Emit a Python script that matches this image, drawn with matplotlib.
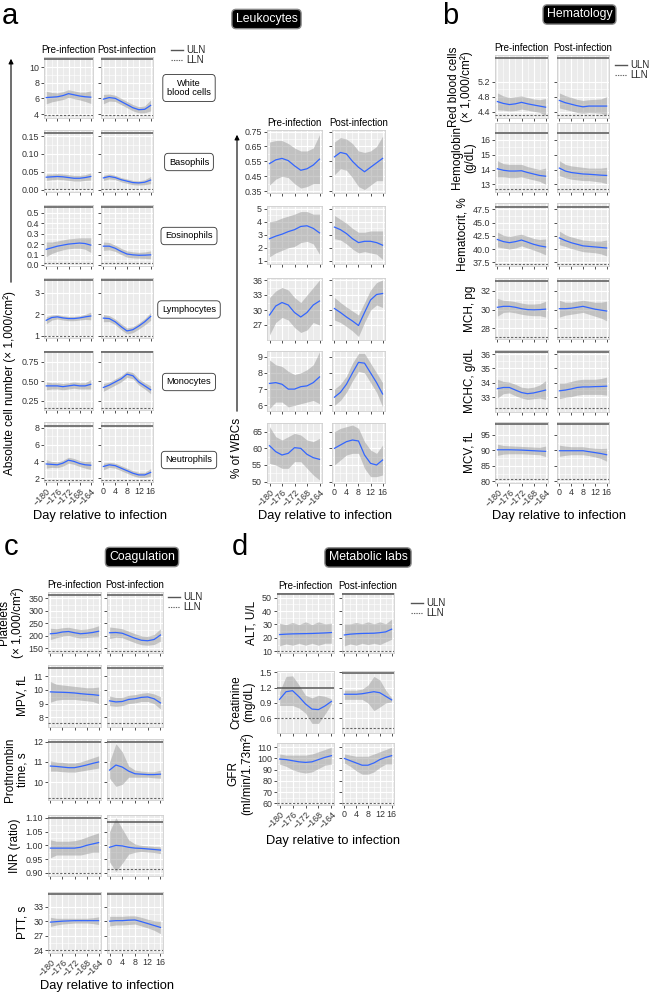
import numpy as np
import matplotlib.pyplot as plt
from matplotlib.lines import Line2D
from matplotlib.patches import FancyArrowPatch

plt.rcParams['font.family'] = ['Liberation Sans', 'DejaVu Sans']

W, H = 653, 994

pre_days = [-180, -178, -176, -174, -172, -170, -168, -166, -164]
post_days = [0, 2, 4, 6, 8, 10, 12, 14, 16]
pre_ticks = [-180, -176, -172, -168, -164]
post_ticks = [0, 4, 8, 12, 16]
pre_ticklabels = ['\u2212180', '\u2212176', '\u2212172', '\u2212168', '\u2212164']
post_ticklabels = ['0', '4', '8', '12', '16']

# each series: [fit, lower, upper]
# --- a: absolute counts
wbc_pre = [[6.1, 6.15, 6.2, 6.35, 6.6, 6.45, 6.3, 6.2, 6.15],
           [5.3, 5.55, 5.7, 5.85, 6.1, 5.95, 5.8, 5.6, 5.35],
           [6.9, 6.75, 6.7, 6.85, 7.1, 6.95, 6.8, 6.8, 6.95]]
wbc_post = [[5.9, 6.1, 6.0, 5.6, 5.2, 4.8, 4.55, 4.6, 5.1],
            [5.3, 5.65, 5.6, 5.2, 4.8, 4.4, 4.15, 4.15, 4.4],
            [6.5, 6.55, 6.4, 6.0, 5.6, 5.2, 4.95, 5.05, 5.8]]
baso_pre = [[0.035, 0.036, 0.037, 0.036, 0.034, 0.032, 0.032, 0.034, 0.037],
            [0.026, 0.028, 0.029, 0.028, 0.026, 0.024, 0.024, 0.026, 0.027],
            [0.044, 0.044, 0.045, 0.044, 0.042, 0.040, 0.040, 0.042, 0.047]]
baso_post = [[0.033, 0.037, 0.034, 0.028, 0.024, 0.020, 0.019, 0.021, 0.027],
             [0.026, 0.030, 0.028, 0.022, 0.018, 0.014, 0.013, 0.014, 0.017],
             [0.040, 0.044, 0.040, 0.034, 0.030, 0.026, 0.025, 0.028, 0.037]]
eos_pre = [[0.15, 0.165, 0.18, 0.19, 0.2, 0.205, 0.21, 0.205, 0.19],
           [0.08, 0.11, 0.13, 0.145, 0.155, 0.16, 0.16, 0.15, 0.12],
           [0.22, 0.22, 0.23, 0.24, 0.25, 0.255, 0.26, 0.26, 0.26]]
eos_post = [[0.18, 0.18, 0.16, 0.13, 0.105, 0.097, 0.093, 0.094, 0.097],
            [0.14, 0.145, 0.13, 0.10, 0.075, 0.068, 0.065, 0.063, 0.06],
            [0.22, 0.215, 0.19, 0.16, 0.135, 0.126, 0.121, 0.125, 0.135]]
lym_pre = [[1.72, 1.85, 1.88, 1.83, 1.80, 1.80, 1.83, 1.88, 1.92],
           [1.55, 1.73, 1.78, 1.73, 1.70, 1.70, 1.73, 1.76, 1.74],
           [1.89, 1.97, 1.98, 1.93, 1.90, 1.90, 1.93, 2.00, 2.10]]
lym_post = [[1.82, 1.80, 1.65, 1.42, 1.22, 1.28, 1.45, 1.65, 1.90],
            [1.65, 1.66, 1.52, 1.28, 1.08, 1.14, 1.31, 1.50, 1.72],
            [1.99, 1.94, 1.78, 1.56, 1.36, 1.42, 1.59, 1.80, 2.08]]
mono_pre = [[0.44, 0.44, 0.44, 0.43, 0.44, 0.45, 0.44, 0.44, 0.46],
            [0.39, 0.40, 0.40, 0.39, 0.40, 0.41, 0.40, 0.40, 0.40],
            [0.49, 0.48, 0.48, 0.47, 0.48, 0.49, 0.48, 0.48, 0.52]]
mono_post = [[0.42, 0.45, 0.49, 0.53, 0.59, 0.57, 0.49, 0.44, 0.39],
             [0.37, 0.41, 0.45, 0.49, 0.55, 0.53, 0.45, 0.40, 0.34],
             [0.47, 0.49, 0.53, 0.57, 0.63, 0.61, 0.53, 0.48, 0.44]]
neut_pre = [[3.7, 3.65, 3.6, 3.8, 4.15, 4.0, 3.75, 3.6, 3.55],
            [3.2, 3.3, 3.25, 3.45, 3.8, 3.65, 3.4, 3.2, 3.05],
            [4.2, 4.0, 3.95, 4.15, 4.5, 4.35, 4.1, 4.0, 4.05]]
neut_post = [[3.4, 3.6, 3.5, 3.2, 2.9, 2.6, 2.4, 2.4, 2.7],
             [3.0, 3.3, 3.2, 2.9, 2.6, 2.3, 2.1, 2.1, 2.25],
             [3.8, 3.9, 3.8, 3.5, 3.2, 2.9, 2.7, 2.7, 3.15]]

# --- a: % of WBCs
basop_pre = [[0.535, 0.56, 0.57, 0.555, 0.52, 0.49, 0.50, 0.525, 0.565],
             [0.39, 0.43, 0.45, 0.44, 0.40, 0.37, 0.38, 0.40, 0.40],
             [0.68, 0.69, 0.69, 0.67, 0.64, 0.62, 0.62, 0.64, 0.73]]
basop_post = [[0.58, 0.61, 0.60, 0.55, 0.51, 0.48, 0.51, 0.54, 0.57],
              [0.46, 0.50, 0.49, 0.44, 0.38, 0.36, 0.39, 0.42, 0.42],
              [0.68, 0.71, 0.70, 0.67, 0.62, 0.61, 0.62, 0.65, 0.72]]
eosp_pre = [[2.7, 2.9, 3.05, 3.25, 3.4, 3.65, 3.7, 3.5, 3.15],
            [1.3, 1.6, 1.8, 2.0, 2.1, 2.4, 2.5, 2.3, 1.5],
            [4.0, 4.1, 4.3, 4.45, 4.6, 4.8, 4.8, 4.6, 4.6]]
eosp_post = [[3.6, 3.4, 3.1, 2.7, 2.4, 2.5, 2.5, 2.4, 2.2],
             [2.7, 2.6, 2.3, 1.9, 1.6, 1.7, 1.6, 1.5, 1.1],
             [4.5, 4.2, 3.9, 3.5, 3.2, 3.2, 3.3, 3.3, 3.3]]
lymp_pre = [[29.0, 30.8, 31.5, 31.0, 29.5, 28.6, 29.5, 31.0, 31.8],
            [25.0, 27.5, 28.5, 28.0, 26.5, 25.5, 26.0, 27.5, 27.0],
            [32.5, 33.8, 34.5, 34.0, 32.5, 31.5, 33.0, 34.5, 36.0]]
lymp_post = [[30.3, 29.5, 28.6, 27.8, 26.9, 29.5, 32.0, 33.1, 33.3],
             [28.0, 27.5, 26.7, 25.8, 24.7, 27.5, 30.0, 31.0, 30.5],
             [32.5, 31.5, 30.6, 29.8, 29.0, 31.5, 34.0, 35.5, 36.0]]
monop_pre = [[7.35, 7.4, 7.3, 7.0, 7.0, 7.15, 7.2, 7.4, 7.75],
             [5.8, 6.2, 6.2, 5.9, 6.0, 6.1, 6.2, 6.3, 6.1],
             [8.8, 8.5, 8.4, 8.1, 7.9, 8.0, 8.2, 8.5, 9.3]]
monop_post = [[6.5, 6.8, 7.3, 8.0, 8.65, 8.6, 8.0, 7.4, 6.7],
              [6.0, 6.3, 6.8, 7.5, 8.1, 8.0, 7.4, 6.8, 5.9],
              [7.0, 7.3, 7.8, 8.6, 9.2, 9.2, 8.6, 8.0, 7.4]]
neutp_pre = [[60.8, 59.0, 58.0, 58.5, 60.2, 60.0, 58.2, 57.2, 56.7],
             [55.5, 55.0, 54.0, 54.0, 56.0, 56.0, 54.0, 52.0, 50.5],
             [66.5, 63.5, 62.5, 63.5, 64.5, 64.0, 62.5, 62.0, 63.0]]
neutp_post = [[60.0, 61.0, 62.0, 62.5, 62.2, 58.0, 55.5, 55.0, 56.5],
              [55.0, 56.5, 58.0, 58.5, 58.5, 54.0, 51.5, 51.5, 52.0],
              [65.0, 66.0, 66.5, 67.0, 66.0, 62.0, 59.5, 58.5, 61.0]]

# --- b: hematology
rbc_pre = [[4.67, 4.62, 4.59, 4.61, 4.65, 4.61, 4.58, 4.55, 4.52],
           [4.45, 4.44, 4.42, 4.43, 4.47, 4.44, 4.41, 4.38, 4.30],
           [4.90, 4.82, 4.78, 4.80, 4.82, 4.78, 4.74, 4.72, 4.75]]
rbc_post = [[4.70, 4.64, 4.60, 4.56, 4.53, 4.55, 4.55, 4.55, 4.55],
            [4.50, 4.46, 4.42, 4.38, 4.36, 4.38, 4.37, 4.36, 4.30],
            [4.90, 4.83, 4.78, 4.73, 4.70, 4.72, 4.73, 4.74, 4.80]]
hgb_pre = [[14.05, 13.95, 13.9, 13.9, 13.92, 13.8, 13.7, 13.6, 13.55],
           [13.5, 13.5, 13.45, 13.45, 13.5, 13.4, 13.3, 13.2, 13.0],
           [14.6, 14.4, 14.35, 14.35, 14.35, 14.2, 14.1, 14.0, 14.1]]
hgb_post = [[14.1, 13.9, 13.8, 13.75, 13.7, 13.68, 13.65, 13.62, 13.6],
            [13.6, 13.45, 13.35, 13.3, 13.25, 13.25, 13.2, 13.15, 13.05],
            [14.6, 14.35, 14.25, 14.2, 14.15, 14.1, 14.1, 14.1, 14.15]]
hct_pre = [[41.8, 41.4, 41.2, 41.4, 41.7, 41.3, 40.9, 40.6, 40.4],
           [40.4, 40.2, 40.0, 40.2, 40.6, 40.2, 39.8, 39.4, 38.9],
           [43.2, 42.6, 42.4, 42.6, 42.8, 42.4, 42.0, 41.8, 41.9]]
hct_post = [[42.1, 41.6, 41.2, 40.9, 40.6, 40.5, 40.4, 40.3, 40.2],
            [40.8, 40.5, 40.1, 39.8, 39.5, 39.4, 39.3, 39.1, 38.7],
            [43.4, 42.7, 42.3, 42.0, 41.7, 41.6, 41.5, 41.5, 41.7]]
mch_pre = [[30.25, 30.35, 30.35, 30.25, 30.1, 30.0, 29.98, 30.0, 30.05],
           [29.3, 29.7, 29.75, 29.65, 29.5, 29.4, 29.35, 29.35, 29.2],
           [31.2, 31.0, 30.95, 30.85, 30.7, 30.6, 30.6, 30.65, 30.9]]
mch_post = [[30.1, 30.1, 30.15, 30.25, 30.35, 30.2, 30.05, 29.95, 29.85],
            [29.2, 29.4, 29.5, 29.6, 29.7, 29.5, 29.3, 29.1, 28.8],
            [31.0, 30.8, 30.8, 30.9, 31.0, 30.9, 30.8, 30.8, 30.9]]
mchc_pre = [[33.6, 33.68, 33.68, 33.5, 33.33, 33.25, 33.3, 33.4, 33.5],
            [32.95, 33.25, 33.3, 33.1, 32.95, 32.85, 32.9, 32.95, 32.85],
            [34.25, 34.1, 34.05, 33.9, 33.7, 33.65, 33.7, 33.85, 34.15]]
mchc_post = [[33.45, 33.5, 33.58, 33.68, 33.72, 33.72, 33.74, 33.75, 33.77],
             [32.9, 33.0, 33.05, 33.15, 33.2, 33.2, 33.2, 33.2, 33.15],
             [34.0, 34.0, 34.1, 34.2, 34.25, 34.25, 34.25, 34.3, 34.4]]
mcv_pre = [[90.2, 90.2, 90.2, 90.15, 90.1, 90.0, 89.9, 89.8, 89.7],
           [88.4, 88.8, 88.9, 88.9, 88.9, 88.8, 88.7, 88.6, 88.0],
           [92.0, 91.6, 91.5, 91.4, 91.3, 91.2, 91.1, 91.0, 91.4]]
mcv_post = [[89.9, 89.9, 89.9, 89.9, 89.9, 89.6, 89.3, 89.0, 88.6],
            [88.1, 88.4, 88.6, 88.6, 88.6, 88.3, 87.9, 87.4, 86.5],
            [91.7, 91.4, 91.2, 91.2, 91.2, 90.9, 90.7, 90.6, 90.7]]

# --- c: coagulation
plt_pre = [[208, 210, 215, 217, 212, 208, 210, 213, 218],
           [185, 192, 198, 200, 195, 191, 193, 195, 196],
           [230, 228, 232, 234, 229, 225, 227, 232, 240]]
plt_post = [[212, 213, 210, 200, 190, 182, 180, 185, 203],
            [189, 194, 192, 182, 172, 164, 162, 165, 178],
            [235, 232, 228, 218, 208, 200, 198, 205, 228]]
mpv_pre = [[9.85, 9.83, 9.82, 9.8, 9.77, 9.72, 9.68, 9.65, 9.6],
           [9.1, 9.25, 9.3, 9.3, 9.3, 9.25, 9.2, 9.15, 9.0],
           [10.6, 10.4, 10.35, 10.3, 10.25, 10.2, 10.15, 10.15, 10.2]]
mpv_post = [[9.2, 9.12, 9.15, 9.3, 9.35, 9.45, 9.48, 9.35, 9.05],
            [8.85, 8.8, 8.85, 9.0, 9.05, 9.15, 9.15, 9.0, 8.6],
            [9.55, 9.45, 9.45, 9.6, 9.65, 9.75, 9.8, 9.7, 9.5]]
pt_pre = [[10.8, 10.78, 10.75, 10.72, 10.72, 10.78, 10.85, 10.93, 11.0],
          [10.55, 10.55, 10.52, 10.5, 10.5, 10.55, 10.6, 10.65, 10.7],
          [11.05, 11.0, 10.98, 10.95, 10.95, 11.0, 11.1, 11.2, 11.3]]
pt_post = [[10.6, 10.85, 10.75, 10.55, 10.42, 10.4, 10.38, 10.38, 10.4],
           [10.2, 9.8, 9.9, 10.25, 10.25, 10.25, 10.25, 10.22, 10.2],
           [11.0, 11.9, 11.5, 10.8, 10.6, 10.55, 10.52, 10.52, 10.6]]
inr_pre = [[0.99, 0.99, 0.99, 0.99, 0.99, 0.993, 1.0, 1.005, 1.01],
           [0.955, 0.965, 0.965, 0.965, 0.965, 0.965, 0.97, 0.975, 0.975],
           [1.02, 1.015, 1.015, 1.015, 1.017, 1.022, 1.03, 1.038, 1.045]]
inr_post = [[0.993, 1.0, 0.998, 0.993, 0.99, 0.989, 0.987, 0.985, 0.983],
            [0.94, 0.905, 0.935, 0.968, 0.975, 0.978, 0.976, 0.974, 0.97],
            [1.05, 1.10, 1.06, 1.02, 1.005, 1.0, 0.998, 0.996, 0.995]]
ptt_pre = [[29.8, 29.9, 30.0, 30.05, 30.1, 30.1, 30.1, 30.1, 30.1],
           [28.9, 29.2, 29.4, 29.5, 29.6, 29.6, 29.6, 29.5, 29.3],
           [30.8, 30.6, 30.6, 30.6, 30.6, 30.6, 30.6, 30.7, 30.9]]
ptt_post = [[30.0, 30.1, 30.1, 30.2, 30.25, 29.9, 29.5, 29.1, 28.7],
            [29.0, 29.2, 29.2, 29.3, 29.4, 29.0, 28.6, 28.1, 27.4],
            [31.0, 31.0, 31.0, 31.1, 31.1, 30.8, 30.4, 30.1, 30.0]]

# --- d: metabolic labs
alt_pre = [[22.5, 22.8, 23.0, 23.1, 23.2, 23.3, 23.5, 23.7, 24.0],
           [14, 15.5, 14.5, 16, 14.5, 16, 14.5, 16, 16],
           [31, 30, 31.5, 30, 32, 30, 32, 30.5, 31]]
alt_post = [[22.2, 22.8, 23.1, 23.3, 23.4, 23.5, 23.9, 24.5, 26.5],
            [14, 15.5, 14.5, 16, 15, 16, 15, 17, 19],
            [30.5, 30.5, 31.5, 30.5, 32, 30.5, 32, 30.5, 34]]
crea_pre = [[0.97, 1.12, 1.14, 1.02, 0.88, 0.78, 0.77, 0.84, 0.93],
            [0.85, 0.85, 0.85, 0.80, 0.70, 0.50, 0.50, 0.68, 0.88],
            [1.12, 1.42, 1.43, 1.25, 1.05, 1.00, 1.05, 1.03, 0.98]]
crea_post = [[1.07, 1.07, 1.07, 1.08, 1.10, 1.12, 1.10, 1.03, 0.96],
             [0.97, 0.97, 0.97, 0.97, 0.90, 0.75, 0.82, 0.90, 0.92],
             [1.15, 1.15, 1.15, 1.17, 1.25, 1.42, 1.35, 1.15, 1.00]]
gfr_pre = [[99.5, 99, 98, 97, 96.5, 97, 99, 101, 102.5],
           [95, 93, 90, 88, 87, 88, 91, 94, 95],
           [104, 103, 103, 103, 103, 104, 106, 108, 110]]
gfr_post = [[100, 98, 96, 94, 94, 96, 99, 101, 102.5],
            [96, 93, 89, 86, 86, 88, 92, 95, 95],
            [104, 103, 102, 102, 102, 104, 106, 108, 110]]

fig = plt.figure(figsize=(W / 100, H / 100), dpi=100)


def fx(x):
    return x / W


def fy(y):
    return 1 - y / H


def panel(x0, x1, top, bottom, days, xticks, xticklabels, s, ylim, yticks, yfmt,
          uln, lln, ylabels, xlabels, rot):
    ax = fig.add_axes([fx(x0), fy(bottom), (x1 - x0) / W, (bottom - top) / H])
    ax.set_facecolor('#EBEBEB')
    ax.fill_between(days, s[1], s[2], color='#999999', alpha=0.5, lw=0, zorder=2)
    ax.plot(days, s[0], color='#3366FF', lw=0.9, zorder=3)
    if uln is not None:
        ax.axhline(uln, color='#555555', lw=1.1, zorder=4)
    if lln is not None:
        ax.axhline(lln, color='#666666', lw=0.8, ls=(0, (2, 1.5)), zorder=4)
    ax.set_xlim(xticks[0] - 0.8, xticks[-1] + 0.8)
    ax.set_ylim(*ylim)
    ax.set_xticks(xticks)
    ax.set_xticks([t + 2 for t in xticks[:-1]], minor=True)
    ax.set_yticks(yticks)
    ax.set_yticks([(a + b) / 2 for a, b in zip(yticks[:-1], yticks[1:])], minor=True)
    ax.set_axisbelow(True)
    ax.grid(which='major', color='white', lw=0.8)
    ax.grid(which='minor', color='white', lw=0.4)
    ax.tick_params(which='major', length=2.5, width=0.6, color='#333333',
                   labelsize=6.4, labelcolor='#333333', pad=1)
    ax.tick_params(which='minor', length=0)
    for sp in ax.spines.values():
        sp.set_color('#CFCFCF')
        sp.set_linewidth(0.6)
    if ylabels:
        ax.set_yticklabels([yfmt % v for v in yticks])
    else:
        ax.set_yticklabels([])
    if xlabels:
        if rot:
            ax.set_xticklabels(xticklabels, rotation=45, ha='right',
                               rotation_mode='anchor')
        else:
            ax.set_xticklabels(xticklabels)
    else:
        ax.set_xticklabels([])
    return ax


def row(cols, top, bottom, pre, post, ylim, yticks, yfmt, uln=(None, None),
        lln=(None, None), xlab=False, ylabel=None, title=False):
    a1 = panel(cols[0], cols[1], top, bottom, pre_days, pre_ticks, pre_ticklabels,
               pre, ylim, yticks, yfmt, uln[0], lln[0], True, xlab, True)
    a2 = panel(cols[2], cols[3], top, bottom, post_days, post_ticks, post_ticklabels,
               post, ylim, yticks, yfmt, uln[1], lln[1], False, xlab, False)
    if ylabel:
        a1.set_ylabel(ylabel, fontsize=8.5, labelpad=3, linespacing=1.1)
    if title:
        a1.set_title('Pre-infection', fontsize=7, pad=3)
        a2.set_title('Post-infection', fontsize=7, pad=3)
    return a1, a2


def box_title(x, y, txt):
    fig.text(fx(x), fy(y), txt, color='white', ha='center', va='center', fontsize=8.8,
             bbox=dict(boxstyle='round,pad=0.3,rounding_size=0.35', fc='black',
                       ec='#888888', lw=1.0))


def legend(x, y):
    fig.add_artist(Line2D([fx(x), fx(x + 12)], [fy(y)] * 2, color='#555555', lw=1.0))
    fig.add_artist(Line2D([fx(x), fx(x + 12)], [fy(y + 10)] * 2, color='#666666',
                          lw=0.8, ls=(0, (1.2, 1))))
    fig.text(fx(x + 15), fy(y), 'ULN', fontsize=7, va='center', color='#222222')
    fig.text(fx(x + 15), fy(y + 10), 'LLN', fontsize=7, va='center', color='#222222')


def xlabel(x, y):
    fig.text(fx(x), fy(y), 'Day relative to infection', ha='center', va='center',
             fontsize=9.3)


def letter(x, y, t):
    fig.text(fx(x), fy(y), t, fontsize=21, ha='left', va='baseline')


def row_tag(x, y, t):
    fig.text(fx(x), fy(y), t, ha='center', va='center', fontsize=6.7, linespacing=1.1,
             bbox=dict(boxstyle='round,pad=0.45,rounding_size=0.4', fc='white',
                       ec='#333333', lw=0.6))


# ================= panel a (absolute counts)
ca = (44, 93, 101, 153)
letter(2, 24, 'a')
box_title(266.5, 19, 'Leukocytes')
legend(171, 50)
row(ca, 57, 118, wbc_pre, wbc_post, (3.49, 11.28), [4, 6, 8, 10], '%g',
    uln=(11.0, 11.0), lln=(3.9, 3.9), title=True)
row(ca, 130, 192, baso_pre, baso_post, (-0.0064, 0.167), [0, 0.05, 0.10, 0.15], '%.2f',
    uln=(0.16, 0.16), lln=(0.003, 0.003))
row(ca, 205, 266, eos_pre, eos_post, (-0.0096, 0.574), [0, 0.1, 0.2, 0.3, 0.4, 0.5],
    '%.1f', uln=(0.555, 0.555), lln=(0.016, 0.016))
row(ca, 278, 338, lym_pre, lym_post, (0.89, 3.70), [1, 2, 3], '%g',
    uln=(3.61, 3.61), lln=(1.0, 1.0))
row(ca, 351, 410, mono_pre, mono_post, (0.131, 0.887), [0.25, 0.5, 0.75], '%.2f',
    uln=(0.868, 0.868), lln=(0.153, 0.153))
row(ca, 422, 482, neut_pre, neut_post, (1.56, 8.68), [2, 4, 6, 8], '%g',
    uln=(8.24, 8.24), lln=(1.8, 1.8), xlab=True)
xlabel(100, 516)
for yy, t in [(88, 'White\nblood cells'), (162, 'Basophils'), (236, 'Eosinophils'),
              (309.5, 'Lymphocytes'), (382, 'Monocytes'), (460, 'Neutrophils')]:
    row_tag(189, yy, t)
fig.add_artist(FancyArrowPatch((fx(11), fy(285)), (fx(11), fy(56)),
                               transform=fig.transFigure, arrowstyle='-|>',
                               mutation_scale=7, lw=0.8, color='black'))
fig.text(fx(10), fy(383), 'Absolute cell number (\u00d7 1,000/cm\u00b2)', rotation=90,
         ha='center', va='center', fontsize=8.5)

# ================= panel a (% of WBCs)
cr = (267, 322, 332, 385)
row(cr, 130, 193, basop_pre, basop_post, (0.337, 0.761),
    [0.35, 0.45, 0.55, 0.65, 0.75], '%.2f', title=True)
row(cr, 206, 264, eosp_pre, eosp_post, (0.745, 5.23), [1, 2, 3, 4, 5], '%g')
row(cr, 278, 340, lymp_pre, lymp_post, (24.0, 36.4), [27, 30, 33, 36], '%g')
row(cr, 351, 411, monop_pre, monop_post, (5.65, 9.35), [6, 7, 8, 9], '%g')
row(cr, 423, 483, neutp_pre, neutp_post, (49.6, 67.6), [50, 55, 60, 65], '%g', xlab=True)
xlabel(325, 516)
fig.add_artist(FancyArrowPatch((fx(237), fy(414)), (fx(237), fy(132)),
                               transform=fig.transFigure, arrowstyle='-|>',
                               mutation_scale=7, lw=0.8, color='black'))
fig.text(fx(237), fy(448), '% of WBCs', rotation=90, ha='center', va='center',
         fontsize=8.5)

# ================= panel b
cb = (495, 548, 557, 609)
letter(442, 24, 'b')
box_title(579.5, 14.5, 'Hematology')
legend(615, 65)
row(cb, 55, 118, rbc_pre, rbc_post, (4.232, 5.912), [4.4, 4.8, 5.2], '%.1f',
    uln=(5.82, 5.82), lln=(4.31, 4.31), ylabel='Red blood cells\n(\u00d7 1,000/cm\u00b2)',
    title=True)
row(cb, 123, 192, hgb_pre, hgb_post, (12.48, 17.15), [13, 14, 15, 16], '%g',
    uln=(16.5, 16.5), lln=(12.68, 12.68), ylabel='Hemoglobin\n(g/dL)')
row(cb, 203, 266, hct_pre, hct_post, (36.8, 48.69), [37.5, 40, 42.5, 45, 47.5], '%.1f',
    uln=(47.9, 47.9), lln=(37.18, 37.18), ylabel='Hematocrit, %')
row(cb, 278, 339, mch_pre, mch_post, (26.85, 33.39), [28, 30, 32], '%g',
    uln=(33.04, 33.04), lln=(27.1, 27.1), ylabel='MCH, pg')
row(cb, 350, 412, mchc_pre, mchc_post, (31.98, 36.28), [33, 34, 35, 36], '%g',
    uln=(36.16, 36.16), lln=(32.28, 32.28), ylabel='MCHC, g/dL')
row(cb, 422, 483, mcv_pre, mcv_post, (79.45, 99.2), [80, 85, 90, 95], '%g',
    uln=(98.47, 98.47), lln=(80.65, 80.65), ylabel='MCV, fL', xlab=True)
xlabel(559, 516)

# ================= panel c
cc = (48, 101, 107, 163)
letter(4, 555, 'c')
box_title(142, 557, 'Coagulation')
legend(168, 597)
row(cc, 592, 653, plt_pre, plt_post, (131, 375), [150, 200, 250, 300, 350], '%g',
    uln=(363, 363), lln=(139, 139), ylabel='Platelets\n(\u00d7 1,000/cm\u00b2)', title=True)
row(cc, 665, 727, mpv_pre, mpv_post, (7.3, 11.8), [8, 9, 10, 11], '%g',
    uln=(11.6, 11.6), lln=(7.56, 7.56), ylabel='MPV, fL')
row(cc, 739, 800, pt_pre, pt_post, (9.13, 12.13), [10, 11, 12], '%g',
    uln=(12.0, 12.0), lln=(9.24, 9.24), ylabel='Prothrombin\ntime, s')
row(cc, 815, 876, inr_pre, inr_post, (0.889, 1.11), [0.90, 0.95, 1.00, 1.05, 1.10],
    '%.2f', uln=(1.10, 1.083), lln=(0.90, 0.915), ylabel='INR (ratio)')
row(cc, 892, 953, ptt_pre, ptt_post, (23.38, 36.06), [24, 27, 30, 33], '%g',
    uln=(35.6, 35.6), lln=(24, 24), ylabel='PTT, s', xlab=True)
xlabel(107, 986)

# ================= panel d
cd = (277, 334, 342, 394)
letter(232, 555, 'd')
box_title(368, 557.5, 'Metabolic labs')
legend(411, 603)
row(cd, 593, 653, alt_pre, alt_post, (8.73, 53.5), [10, 20, 30, 40, 50], '%g',
    uln=(52.5, 52.5), lln=(10.45, 10.45), ylabel='ALT, U/L', title=True)
row(cd, 671, 733, crea_pre, crea_post, (0.312, 1.525), [0.6, 0.9, 1.2, 1.5], '%.1f',
    uln=(1.2, 1.49), lln=(0.6, 0.404), ylabel='Creatinine\n(mg/dL)')
row(cd, 743, 805, gfr_pre, gfr_post, (58.5, 113.8), [60, 70, 80, 90, 100, 110], '%g',
    lln=(60, 60), ylabel='GFR\n(ml/min/1.73m\u00b2)', xlab=True)
xlabel(333, 841)

fig.savefig('out.png', dpi=100)
